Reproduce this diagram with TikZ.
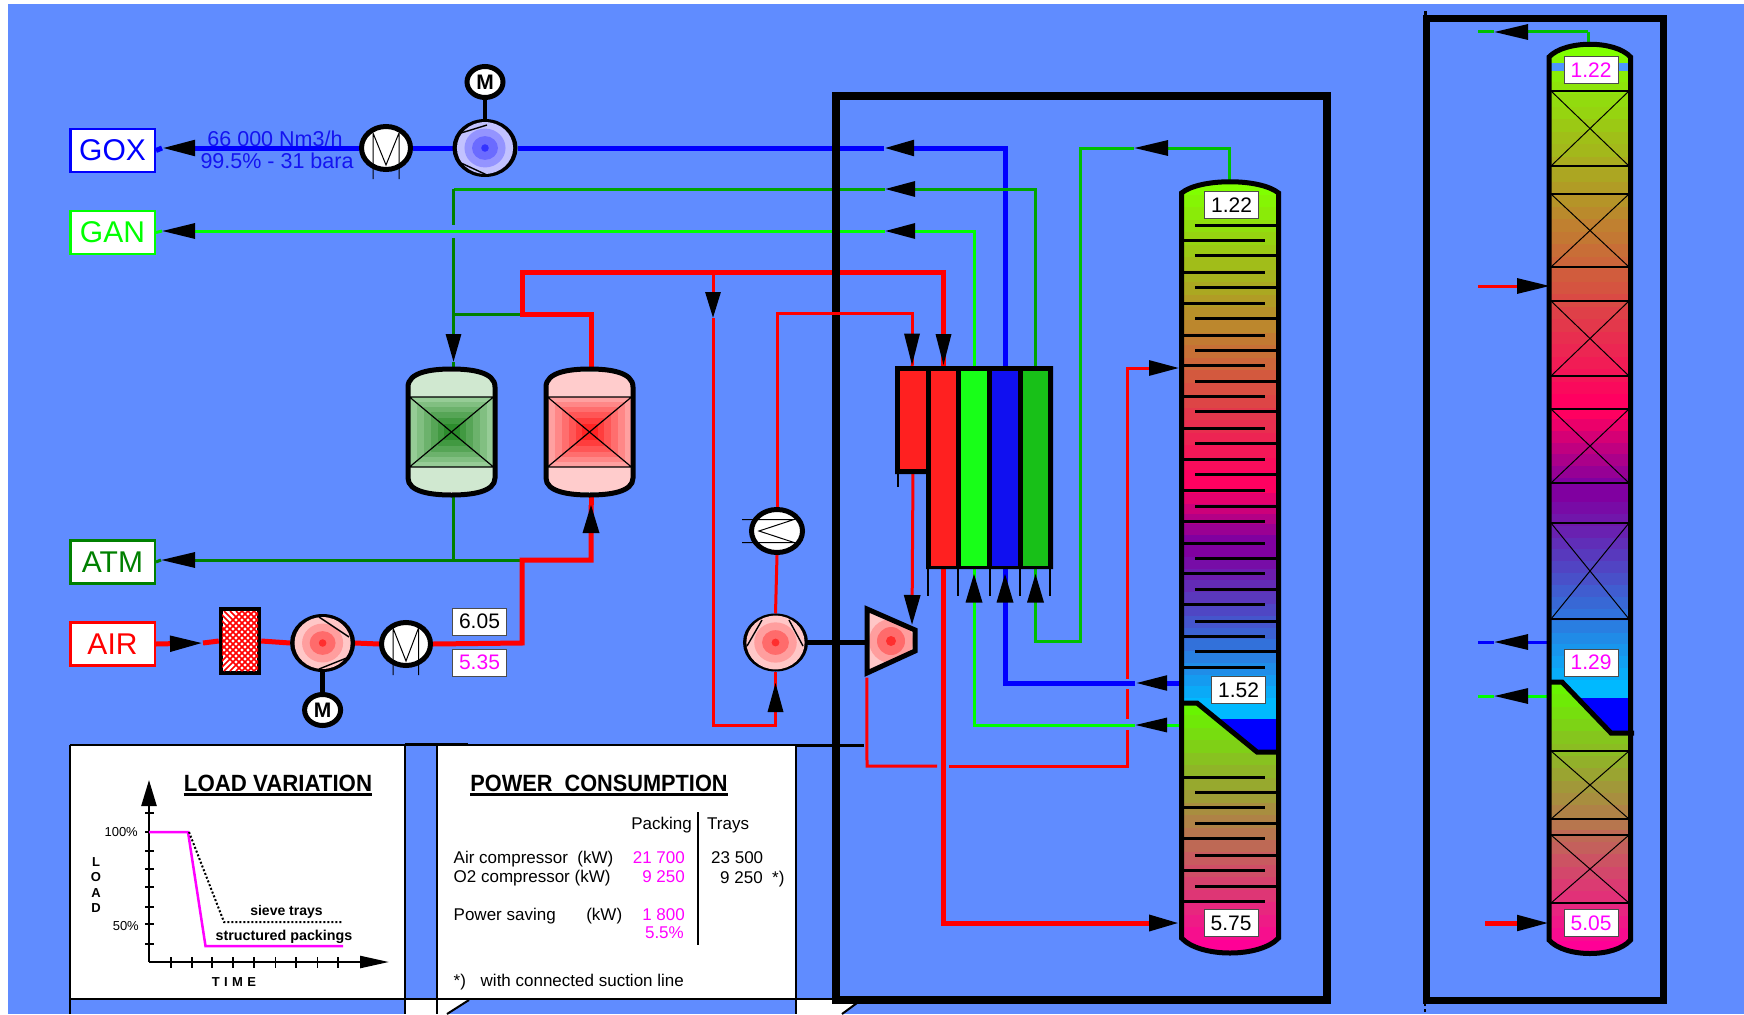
\documentclass[tikz,border=0pt]{standalone}
\usepackage{fontspec}
\setmainfont{Liberation Sans}
\usetikzlibrary{shapes.geometric,arrows.meta}
\definecolor{skyb}{RGB}{96,140,255}
\definecolor{gC}{RGB}{0,255,0}
\definecolor{gD}{RGB}{0,128,0}
\definecolor{gM}{RGB}{0,165,0}
\definecolor{gT}{RGB}{0,192,0}
\definecolor{bluM}{RGB}{0,0,255}
\definecolor{mag}{RGB}{255,0,255}
\definecolor{txtb}{RGB}{20,20,240}
\definecolor{top1}{RGB}{128,255,0}
\definecolor{pnk1}{RGB}{255,0,96}
\definecolor{vio1}{RGB}{128,0,160}
\definecolor{cya1}{RGB}{0,185,255}
\definecolor{grn2}{RGB}{104,245,0}
\definecolor{pnk2}{RGB}{255,0,150}
\definecolor{cellR}{RGB}{255,32,32}
\definecolor{cellG}{RGB}{24,255,24}
\definecolor{cellB}{RGB}{16,16,240}
\definecolor{cellD}{RGB}{24,192,24}
\definecolor{vgP}{RGB}{208,232,208}
\definecolor{vgA}{RGB}{150,204,150}
\definecolor{vgB}{RGB}{44,140,44}
\definecolor{vrP}{RGB}{255,204,204}
\definecolor{vrA}{RGB}{255,160,160}
\definecolor{vrB}{RGB}{255,36,36}
\newcommand\fsz[1]{\fontsize{#1}{#1}\selectfont}
\newcommand\gband[6]{\pgfmathtruncatemacro\nn{round((#4-#3)/13)}\foreach \i in {0,...,\nn}{\pgfmathsetmacro\yy{#3+(#4-#3)*\i/(\nn+1)}\pgfmathsetmacro\hh{(#4-#3)/(\nn+1)+.6}\pgfmathtruncatemacro\pp{100*\i/\nn}\fill[#6!\pp!#5] (#1,\yy) rectangle (#2,\yy+\hh);}}
\newcommand\rings[7]{\fill[#4] (#1,#2) ellipse [x radius=#3*26pt,y radius=#3*24pt];\fill[#5] (#1,#2) ellipse [x radius=#3*19pt,y radius=#3*18pt];\fill[#6] (#1,#2) ellipse [x radius=#3*12pt,y radius=#3*11pt];\fill[#7] (#1,#2) ellipse [x radius=#3*3.5pt,y radius=#3*3.5pt];}
\newcommand\vessel[4]{%
\begin{scope}
\clip (#1-43.5,387) .. controls (#1-43.5,372) and (#1-20,369) .. (#1,369) .. controls (#1+20,369) and (#1+43.5,372) .. (#1+43.5,387) -- (#1+43.5,478) .. controls (#1+43.5,492) and (#1+20,495) .. (#1,495) .. controls (#1-20,495) and (#1-43.5,492) .. (#1-43.5,478) -- cycle;
\fill[#2] (#1-44,367) rectangle (#1+44,497);
\fill[white] (#1-44,367) rectangle (#1+44,372);
\fill[white] (#1-44,492) rectangle (#1+44,497);
\foreach \w/\h/\p in {42/35/0,35/30/20,28/25/40,21/20/60,14/14/80,8/8/100}{\fill[#4!\p!#3] (#1-\w,432-\h) rectangle (#1+\w,432+\h);}
\end{scope}
\draw[line width=1.2pt] (#1-42,397) -- (#1+42,397) (#1-42,467) -- (#1+42,467) (#1-42,397) -- (#1+42,467) (#1-42,467) -- (#1+42,397);
\draw[line width=5pt] (#1-43.5,387) .. controls (#1-43.5,372) and (#1-20,369) .. (#1,369) .. controls (#1+20,369) and (#1+43.5,372) .. (#1+43.5,387) -- (#1+43.5,478) .. controls (#1+43.5,492) and (#1+20,495) .. (#1,495) .. controls (#1-20,495) and (#1-43.5,492) .. (#1-43.5,478) -- cycle;}
\pgfdeclarelayer{panels}\pgfdeclarelayer{lines}\pgfdeclarelayer{frames}\pgfdeclarelayer{over}
\pgfsetlayers{panels,lines,frames,over,main}
\tikzset{
 ah/.style 2 args={-{Triangle[length=#1pt,width=#2pt,color=black,fill=black]}},
 lab/.style={draw=#1,text=#1,fill=white,line width=2.5pt,minimum width=84.5pt,minimum height=43pt,inner sep=0,font=\fsz{30}},
 valb/.style={draw=black!70,text=#1,fill=white,line width=1pt,minimum width=54pt,minimum height=27pt,inner sep=0,font=\fsz{21}},
 equip/.style={ellipse,draw=black,line width=5pt,fill=white,inner sep=0},
 comps/.style={equip,minimum width=60pt,minimum height=53pt},
 coolr/.style={equip,minimum width=49pt,minimum height=43pt},
 motor/.style={equip,minimum width=36pt,minimum height=31pt,font=\bfseries\fsz{21}},
 cell/.style={fill=#1,inner sep=0},
 anch/.style={inner sep=0},
 tw/.style={inner sep=0,anchor=base west,font=\fsz{17}},
 te/.style={inner sep=0,anchor=base east,font=\fsz{17}},
 bl/.style={draw=bluM,line width=5pt},
 bth/.style={draw=bluM,line width=3pt},
 gl/.style={draw=gC,line width=3pt},
 gd/.style={draw=gD,line width=3pt},
 gm/.style={draw=gM,line width=3pt},
 gt/.style={draw=gT,line width=3pt},
 rt/.style={draw=red,line width=5pt},
 rn/.style={draw=red,line width=3pt},
 trayl/.style={line width=3pt},
 thinb/.style={line width=1pt},
}
\begin{document}
\begin{tikzpicture}[x=1pt,y=-1pt]
\useasboundingbox (0,0) rectangle (1744,1014);
\begin{pgfonlayer}{panels}
\fill[white] (0,0) rectangle (1744,1014);
\fill[skyb] (8,4) rectangle (1744,1014);
\fill[white] (70,745) rectangle (405,999);
\fill[white] (437,745) rectangle (796,999);
\fill[white] (405,1000) rectangle (437,1014);
\fill[white] (437,1000) -- (469,1000) -- (447,1014) -- (437,1014) -- cycle;
\fill[white] (796,1000) -- (861,1000) -- (842,1014) -- (796,1014) -- cycle;
\draw[line width=2pt] (70,745) -- (405,745) (437,745) -- (796,745) (70,745) -- (70,1014) (405,745) -- (405,1014) (437,745) -- (437,1014) (796,745) -- (796,1014);
\draw[line width=3pt] (405,744.5) -- (468,744.5) (796,745) -- (864,745);
\draw[line width=2.5pt] (70,999) -- (836,999);
\draw[line width=2pt] (469,1000) -- (447,1014) (861,1000) -- (842,1014);
\end{pgfonlayer}

% ---- column 1
\begin{scope}
\clip (1181.5,193) .. controls (1200,178) and (1260,178) .. (1278.5,193) -- (1278.5,938) .. controls (1260,958) and (1200,958) .. (1181.5,938) -- cycle;
\gband{1180}{1280}{182}{483}{top1}{pnk1}
\gband{1180}{1280}{483}{545}{pnk1}{vio1}
\gband{1180}{1280}{545}{710}{vio1}{cya1}
\fill[cya1] (1180,708) rectangle (1280,760);
\fill[bluM] (1217,719) -- (1280,719) -- (1280,756) -- (1257,756) -- cycle;
\begin{scope}
\clip (1180,703) -- (1197,703) -- (1257,752) -- (1280,752) -- (1280,960) -- (1180,960) -- cycle;
\gband{1180}{1280}{703}{952}{grn2}{pnk2}
\end{scope}
\end{scope}
\foreach \yy in {225.3,255.3,287.3,318.3,350.3,381.3,411.3,443.3,474.3,506.3,558.3,589.3,621.3,651.3,792.3,823.3,855.3,886.3}{\draw[trayl] (1195,\yy) -- (1277,\yy);}
\foreach \yy in {240.3,272.3,303.3,335.3,365.3,396.3,428.3,459.3,490.3,521.3,543.3,573.3,604.3,636.3,667.3,777.3,807.3,838.3,870.3,901.3}{\draw[trayl] (1183,\yy) -- (1265,\yy);}
\draw[line width=5pt] (1184,703) -- (1197,703) -- (1257,752) -- (1277,752);
\draw[line width=5pt] (1181.5,193) .. controls (1200,178) and (1260,178) .. (1278.5,193) -- (1278.5,938) .. controls (1260,958) and (1200,958) .. (1181.5,938) -- cycle;
\node[anch,minimum width=97pt,minimum height=770pt] (col1) at (1230,567) {};
\node[valb=black] (c1a) at (1231.5,205) {1.22};
\node[valb=black] (c1b) at (1238.5,690) {1.52};
\node[valb=black] (c1c) at (1231,923) {5.75};

% ---- column 2
\begin{scope}
\clip (1549,57) .. controls (1565,40) and (1615,40) .. (1630.5,57) -- (1630.5,940) .. controls (1615,958) and (1565,958) .. (1549,940) -- cycle;
\gband{1545}{1635}{44}{407}{top1}{pnk1}
\gband{1545}{1635}{407}{490}{pnk1}{vio1}
\gband{1545}{1635}{490}{692}{vio1}{cya1}
\fill[skyb!80!cya1] (1545,63) rectangle (1635,71.5);
\fill[cya1] (1545,690) rectangle (1635,740);
\fill[bluM] (1577,698) -- (1635,698) -- (1635,736) -- (1611,736) -- cycle;
\begin{scope}
\clip (1545,682) -- (1562,682) -- (1611,733) -- (1635,733) -- (1635,960) -- (1545,960) -- cycle;
\gband{1545}{1635}{682}{953}{grn2}{pnk2}
\end{scope}
\end{scope}
\foreach \yy in {91,166,194,267,301,376,409,483,523,619,751,819,835,903}{\draw[line width=2.8pt] (1550,\yy) -- (1630,\yy);}
\foreach \ya/\yb in {91/166,194/267,301/376,409/483,523/619,751/819,835/903}{\draw[thinb] (1551,\ya) -- (1629,\yb) (1551,\yb) -- (1629,\ya);}
\draw[line width=5pt] (1551,682) -- (1562,682) -- (1611,733) -- (1634,733);
\draw[line width=5pt] (1549,57) .. controls (1565,40) and (1615,40) .. (1630.5,57) -- (1630.5,940) .. controls (1615,958) and (1565,958) .. (1549,940) -- cycle;
\node[anch,minimum width=81pt,minimum height=909pt] (col2) at (1589.75,498.5) {};
\node[valb=mag] (c2a) at (1591,70) {1.22};
\node[valb=mag] (c2b) at (1591,662.5) {1.29};
\node[valb=mag] (c2c) at (1591,923) {5.05};

% ---- heat exchanger
\fill[black] (895,366) -- (1053,366) -- (1053,569) -- (926,569) -- (926,474) -- (895,474) -- cycle;
\node[cell=cellR,minimum width=26pt,minimum height=98pt] (hxS) at (913,420) {};
\node[cell=cellR,minimum width=25pt,minimum height=195pt] (hxR) at (943.5,468.5) {};
\node[cell=cellG,minimum width=26pt,minimum height=195pt] (hxG) at (974,468.5) {};
\node[cell=cellB,minimum width=26pt,minimum height=195pt] (hxB) at (1005,468.5) {};
\node[cell=cellD,minimum width=25pt,minimum height=195pt] (hxD) at (1035.5,468.5) {};
\draw[line width=1.5pt] (928,569) -- (928,596) (958,569) -- (958,596) (990,569) -- (990,596) (1020,569) -- (1020,596) (1050,569) -- (1050,596) (898,474) -- (898,487);

% ---- vessels
\vessel{451.5}{vgP}{vgA}{vgB}
\vessel{589.5}{vrP}{vrA}{vrB}
\node[anch,minimum width=87pt,minimum height=126pt] (v1) at (451.5,432) {};
\node[anch,minimum width=87pt,minimum height=126pt] (v2) at (589.5,432) {};

% ---- labels
\node[lab=bluM] (gox) at (112.5,150.5) {GOX};
\node[lab=gC] (gan) at (112.5,232.5) {GAN};
\node[lab=gD] (atm) at (112.5,562) {ATM};
\node[lab=red] (air) at (112.5,644) {AIR};
\node[valb=black] (v605) at (479.5,621.5) {6.05};
\node[valb=mag] (v535) at (479.5,662.5) {5.35};
\node[inner sep=0,text=txtb,font=\fsz{21.5}] (flow1) at (275,139) {66 000 Nm3/h};
\node[inner sep=0,text=txtb,font=\fsz{21.5}] (flow2) at (277,161) {99.5\% - 31 bara};

% ---- filter
\node[rectangle,draw=black,line width=4.5pt,fill=white,minimum width=38pt,minimum height=64pt,inner sep=0] (filt) at (240,641) {};
\begin{scope}
\clip (222,611) rectangle (258,671);
\foreach \k in {0,6,...,114}{\draw[red,line width=1.6pt] (222+\k-40,611) -- (222+\k+20,671) (222+\k-40,671) -- (222+\k+20,611);}
\end{scope}

% ---- rotating equipment
\node[comps] (cO) at (485,148) {};
\rings{485}{148}{1.08}{blue!24!white}{blue!42!white}{blue!58!white}{blue!80!white}
\draw[line width=1.4pt] (461,133) -- (487,125) (461,163) -- (487,175);
\node[coolr] (kO) at (386,148) {};
\draw[thinb] (373,133) -- (373,179) (399,133) -- (399,179) (373,133) -- (386,165) -- (399,133);
\node[motor] (mO) at (485,82) {M};

\node[comps] (cA) at (322.6,643) {};
\rings{322.6}{643}{1.08}{red!22!white}{red!38!white}{red!58!white}{red!82!white}
\draw[line width=1.4pt] (319,617) -- (349,637) (319,669) -- (349,657);
\node[coolr] (kA) at (406,644) {};
\draw[thinb] (393,628) -- (393,675) (418.5,628) -- (418.5,675) (393,628) -- (406,661) -- (418.5,628);
\node[motor] (mA) at (322.6,710) {M};

\node[comps] (cR) at (775.5,642.5) {};
\rings{775.5}{642.5}{1.12}{red!22!white}{red!38!white}{red!58!white}{red!82!white}
\draw[line width=1.4pt] (747,646) -- (762,620) (789,620) -- (803,646);
\node[coolr,minimum width=51pt] (kR) at (777,531) {};
\draw[thinb] (742,519.5) -- (794,519.5) -- (759,531) -- (794,542.5) -- (742,542.5);

% ---- turbine
\node[anch,minimum width=52pt,minimum height=70pt] (turb) at (893,642.5) {};
\begin{scope}
\clip (867,609) -- (915,630) -- (915,651) -- (867,673) -- cycle;
\fill[red!22!white] (860,600) rectangle (920,680);
\fill[red!38!white] (891,641) ellipse [x radius=22pt,y radius=22pt];
\fill[red!58!white] (891,641) ellipse [x radius=14pt,y radius=14pt];
\fill[red!82!white] (891,641) ellipse [x radius=5pt,y radius=5pt];
\end{scope}
\draw[line width=5pt] (867,609) -- (915,630) -- (915,651) -- (867,673) -- cycle;

% ---- named ports
\coordinate (tGox) at (162,148);
\coordinate (aGox) at (884,148);
\coordinate (tGan) at (162,231);
\coordinate (aGan) at (885,231);
\coordinate (aDk) at (885,189);
\coordinate (jA) at (453.5,189);
\coordinate (jB) at (453.5,225);
\coordinate (jC) at (453.5,238);
\coordinate (tV1) at (453.5,362);
\coordinate (jD) at (453.5,314);
\coordinate (jE) at (522,314);
\coordinate (jF) at (522,272);
\coordinate (tHxR) at (943.5,365);
\coordinate (jG) at (713,272);
\coordinate (tRd) at (713,318);
\coordinate (jH) at (713,725);
\coordinate (tCr) at (775.5,683);
\coordinate (jI) at (777,313);
\coordinate (tHxS) at (912,365);
\coordinate (tTu) at (912,625);
\coordinate (jAt) at (453.5,560);
\coordinate (tAtm) at (161,560);
\coordinate (jJ) at (522,560);
\coordinate (jK) at (522,643);
\coordinate (tV2) at (591,505);
\coordinate (tFil) at (203,643);
\coordinate (jL) at (867,766);
\coordinate (jM) at (937,766);
\coordinate (jN) at (949,766);
\coordinate (jO) at (1127,766);
\coordinate (jP) at (1127,730);
\coordinate (jQ) at (1127,719);
\coordinate (jR) at (1127,689);
\coordinate (jS) at (1127,679);
\coordinate (p1Fd) at (1179,368);
\coordinate (p1Ox) at (1180,683);
\coordinate (a1Ox) at (1135,683);
\coordinate (p1Gn) at (1180,725);
\coordinate (a1Gn) at (1135,725);
\coordinate (p1Ar) at (1179,923);
\coordinate (p1Tp) at (1229,184);
\coordinate (a1Tp) at (1134,148);
\coordinate (jT) at (1080,148);
\coordinate (jU) at (1080,641);
\coordinate (tHxD) at (1035.5,574);
\coordinate (tHxB) at (1005,574);
\coordinate (tHxG) at (974,574);
% column 2 free ends
\coordinate (p2Tp) at (1588,44);
\coordinate (j2T) at (1588,32);
\coordinate (a2T) at (1494,32);
\coordinate (e2T) at (1478,32);
\coordinate (e2F) at (1478,286);
\coordinate (p2F) at (1550,286);
\coordinate (e2B) at (1478,642);
\coordinate (a2B) at (1494,642);
\coordinate (p2B) at (1549,642);
\coordinate (e2G) at (1478,696);
\coordinate (a2G) at (1494,696);
\coordinate (p2G) at (1549,696);
\coordinate (e2R) at (1485,923);
\coordinate (p2R) at (1549,923);

\begin{pgfonlayer}{lines}
% GOX
\draw[bl,ah={30}{15}] (hxB.north) |- (aGox);
\draw[bl] (aGox) -- (cO.east);
\draw[bl] (cO.west) -- (kO.east);
\draw[bl,ah={33}{15}] (kO.west) -- (tGox);
\draw[bl] (tGox) -- (gox.east);
\draw[line width=4.5pt] (mO.south) -- (cO.north);
% GAN
\draw[gl,ah={30}{15}] (hxG.north) |- (aGan);
\draw[gl,ah={33}{15}] (aGan) -- (tGan);
\draw[gl] (tGan) -- (gan.east);
% dark green
\draw[gm,ah={30}{15}] (hxD.north) |- (aDk);
\draw[gm] (aDk) -- (jA);
\draw[gd] (jA) -- (jB);
\draw[gd,ah={28}{15}] (jC) -- (tV1);
\draw[gd] (tV1) -- (v1.north -| tV1);
\draw[gd] (jD) -- (jE);
\draw[gd] (v1.south -| jAt) -- (jAt);
\draw[gd,ah={34}{15}] (jJ) -- (tAtm);
\draw[gd] (tAtm) -- (atm.east);
% thick red
\draw[rt,ah={33}{15}] (air.east) -- (tFil);
\draw[rt] (tFil) -- (filt.west);
\draw[rt] (filt.east) -- (cA.west);
\draw[rt] (cA.east) -- (kA.west);
\draw[rt] (kA.east) -- (jK) -- (jJ) -| (tV2);
\draw[line width=4.5pt] (cA.south) -- (mA.north);
\fill[black] (tV2) -- ++(-8.5,28) -- ++(17,0) -- cycle;
\draw[rt] (tV2) -- (v2.south -| tV2);
\draw[rt] (v2.north -| tV2) |- (jE) -- (jF) -| (tHxR);
\fill[black] (tHxR) -- ++(-8,-31) -- ++(16,0) -- cycle;
\draw[rt] (tHxR) -- (hxR.north);
\draw[rt,ah={30}{15.5}] (hxR.south) |- (p1Ar);
% thin red
\draw[rn,ah={26}{15}] (jG) -- (tRd);
\draw[rn] (tRd) -- (jH) -| (tCr);
\fill[black] (tCr) -- ++(-8,29) -- ++(16,0) -- cycle;
\draw[rn] (tCr) -- (cR.south);
\draw[rn] (cR.north) -- (kR.south);
\draw[line width=4.5pt] (cR.east) -- (turb.west);
\draw[rn] (turb.south west) -- (jL) -- (jM);
\draw[rn] (jN) -- (jO) -- (jP);
\draw[rn] (jQ) -- (jR);
\draw[rn,ah={30}{15}] (jS) |- (p1Fd);
\draw[rn,ah={30}{16}] (hxS.south) -- (tTu);
% hx bottom
\draw[bl,ah={32}{14}] (p1Ox) -- (a1Ox);
\draw[bl] (a1Ox) -| (tHxB);
\fill[black] (tHxB) -- ++(-8.5,28.5) -- ++(17,0) -- cycle;
\draw[bl] (tHxB) -- (hxB.south);
\draw[gl,ah={32}{14}] (p1Gn) -- (a1Gn);
\draw[gl] (a1Gn) -| (tHxG);
\fill[black] (tHxG) -- ++(-8.5,28.5) -- ++(17,0) -- cycle;
\draw[gl] (tHxG) -- (hxG.south);
\draw[gt,ah={34}{15}] (p1Tp) |- (a1Tp);
\draw[gt] (a1Tp) -- (jT) -- (jU) -| (tHxD);
\fill[black] (tHxD) -- ++(-8.5,28.5) -- ++(17,0) -- cycle;
\draw[gt] (tHxD) -- (hxD.south);
% column 2
\draw[gt] (p2Tp) -- (j2T);
\draw[gt,ah={34}{15}] (j2T) -- (a2T);
\draw[gt] (a2T) -- (e2T);
\draw[rn,ah={33}{15}] (e2F) -- (p2F);
\draw[bth,ah={34}{15}] (p2B) -- (a2B);
\draw[bth] (a2B) -- (e2B);
\draw[gl,ah={34}{15}] (p2G) -- (a2G);
\draw[gl] (a2G) -- (e2G);
\draw[rt,ah={32}{15}] (e2R) -- (p2R);
\end{pgfonlayer}

\begin{pgfonlayer}{frames}
\draw[line width=7.5pt,miter limit=10] (836,96) rectangle (1327,1000);
\draw[line width=7pt] (1426,18.5) rectangle (1663,1000);
\draw[line width=3pt] (1425,11) -- (1425,16);
\draw[line width=2pt,dashed] (1425,1003) -- (1425,1014);
\end{pgfonlayer}

\begin{pgfonlayer}{over}
\draw[rn] (kR.north) |- (jI) -| (tHxS);
\fill[black] (tHxS) -- ++(-8,-31.5) -- ++(16,0) -- cycle;
\draw[rn] (tHxS) -- (hxS.north);
\end{pgfonlayer}

% ---- load variation panel
\node[inner sep=0,anchor=base,font=\bfseries\fsz{23.5},xscale=.946,transform shape] (tLoad) at (278,791.5) {LOAD VARIATION};
\draw[line width=3pt] ([yshift=-2.5pt]tLoad.base west) -- ([yshift=-2.5pt]tLoad.base east);
\coordinate (orig) at (149,962);
\coordinate (yEnd) at (149,780);
\coordinate (xEnd) at (389,962);
\draw[line width=2.5pt,ah={26}{15}] (orig) -- (yEnd);
\draw[line width=2.5pt,ah={29}{12}] (orig) -- (xEnd);
\foreach \yy in {813,832,851,869,887,907,924,944}{\draw[line width=1.6pt] (145,\yy) -- (154,\yy);}
\foreach \xx in {171,192,212,233,254,275.5,296,317.5,338}{\draw[line width=1.2pt] (\xx,957) -- (\xx,968);}
\draw[mag,line width=2.5pt] (149,832) -- (188,832) -- (205.5,946) -- (343,946);
\draw[line width=2pt,dotted] (189,832) -- (224,922) -- (342,922);
\node[inner sep=0,anchor=east,font=\fsz{13}] (p100) at (138,832) {100\%};
\node[inner sep=0,anchor=east,font=\fsz{13}] (p50) at (139,926) {50\%};
\node[inner sep=0,align=center,font=\bfseries\fontsize{13}{15.4}\selectfont] (yLab) at (96,885) {L\\O\\A\\D};
\node[inner sep=0,font=\bfseries\fsz{14}] (sieve) at (286.5,912) {sieve trays};
\node[inner sep=0,font=\bfseries\fsz{14.3}] (struct) at (284,937) {structured packings};
\node[inner sep=0,font=\bfseries\fsz{13}\addfontfeatures{LetterSpace=34}] (tTime) at (234,982) {TIME};

% ---- power panel
\node[inner sep=0,anchor=base,font=\bfseries\fsz{23.5},xscale=.925,transform shape] (tPow) at (599,791.5) {POWER\ \ CONSUMPTION};
\draw[line width=3pt] ([yshift=-2.5pt]tPow.base west) -- ([yshift=-2.5pt]tPow.base east);
\node[te] (hP) at (692,829) {Packing};
\node[tw] (hT) at (707,829) {Trays};
\coordinate (sepT) at (698,812);
\coordinate (sepB) at (698,945);
\draw[line width=2.5pt] (sepT) -- (sepB);
\node[tw] (r1) at (453.5,863) {Air compressor\ \ (kW)};
\node[tw] (r2) at (453.5,882) {O2 compressor (kW)};
\node[tw] (r3) at (453.5,920) {\makebox[168.5pt][s]{Power saving\hfill(kW)}};
\node[te,text=mag] (m1) at (685,863) {21 700};
\node[te,text=mag] (m2) at (685,882) {9 250};
\node[te,text=mag] (m3) at (685,920) {1 800};
\node[te,text=mag] (m4) at (684,938) {5.5\%};
\node[tw] (q1) at (711,863.5) {23 500};
\node[tw] (q2) at (720,883) {9 250\ \ *)};
\node[tw] (f1) at (453.5,986) {*)};
\node[tw] (f2) at (480.5,986) {with connected suction line};
\end{tikzpicture}
\end{document}
